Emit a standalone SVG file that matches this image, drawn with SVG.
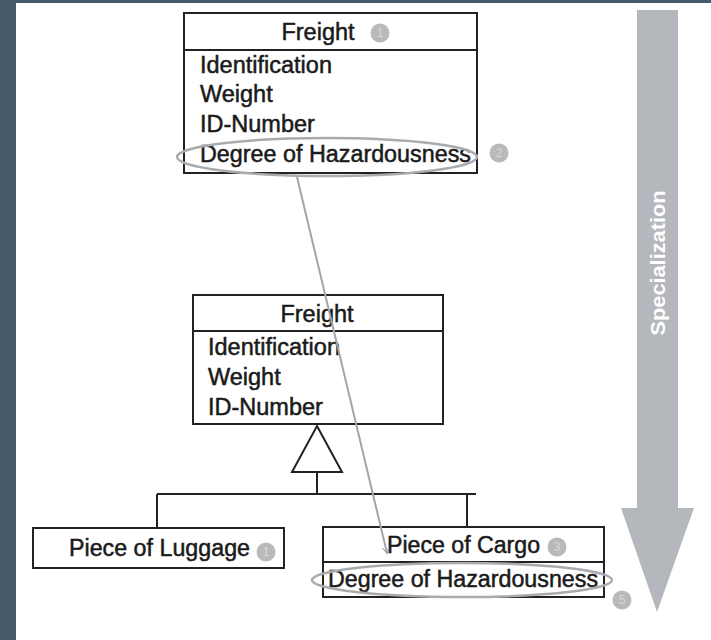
<svg xmlns="http://www.w3.org/2000/svg" width="711" height="640" viewBox="0 0 711 640">
<style>
.box{fill:#fff;stroke:#222;stroke-width:2}
.ln{stroke:#222;stroke-width:2;fill:none}
.t{font-family:"Liberation Sans",Arial,sans-serif;font-size:23.5px;fill:#1a1a1a;stroke:#1a1a1a;stroke-width:0.5}
.c{font-family:"Liberation Sans",Arial,sans-serif;font-size:23.5px;fill:#1a1a1a;stroke:#1a1a1a;stroke-width:0.5;text-anchor:middle}
.bub{fill:#b9b9bb}
.bt{font-family:"Liberation Sans",Arial,sans-serif;font-size:12px;fill:#d8d8da;text-anchor:middle}
.hl{fill:none;stroke:#a9abae;stroke-width:2.5}
</style>
<defs>
<marker id="ah" viewBox="0 0 10 10" refX="9" refY="5" markerWidth="7" markerHeight="7" orient="auto" markerUnits="userSpaceOnUse">
<path d="M0,0 L10,5 L0,10" fill="none" stroke="#a3a5a8" stroke-width="1.5"/>
</marker>
</defs>
<rect x="0" y="0" width="711" height="640" fill="#fff"/>
<rect x="0" y="0" width="16" height="640" fill="#455a68"/>
<rect x="0" y="0" width="711" height="3" fill="#455a68"/>

<g id="specialization">
<path d="M637,10 L678,10 L678,508 L694,508 L657,612 L621,508 L637,508 Z" fill="#b4b7bc"/>
<text transform="translate(665,263) rotate(-90)" font-family="'Liberation Sans',Arial,sans-serif" font-size="20" font-weight="bold" fill="#fff" text-anchor="middle" textLength="145" lengthAdjust="spacingAndGlyphs">Specialization</text>
</g>

<g id="freight-top">
<rect class="box" x="184" y="13" width="293" height="160"/>
<line class="ln" x1="184" y1="50" x2="477" y2="50"/>
<text class="c" x="318" y="40">Freight</text>
<text class="t" x="200" y="73">Identification</text>
<text class="t" x="200" y="102">Weight</text>
<text class="t" x="200" y="132">ID-Number</text>
<text class="t" x="200" y="162" textLength="271" lengthAdjust="spacingAndGlyphs">Degree of Hazardousness</text>
<circle class="bub" cx="380" cy="33" r="9.5"/><text class="bt" x="380" y="37">1</text>
<circle class="bub" cx="499" cy="153" r="9.5"/><text class="bt" x="499" y="157">2</text>
</g>

<g id="freight-mid">
<rect class="box" x="193" y="295" width="250" height="129"/>
<line class="ln" x1="193" y1="331" x2="443" y2="331"/>
<text class="c" x="317" y="322">Freight</text>
<text class="t" x="208" y="355">Identification</text>
<text class="t" x="208" y="385">Weight</text>
<text class="t" x="208" y="415">ID-Number</text>
</g>

<g id="luggage">
<rect class="box" x="33" y="528" width="251" height="40"/>
<text class="t" x="69" y="556" textLength="181" lengthAdjust="spacingAndGlyphs">Piece of Luggage</text>
<circle class="bub" cx="266" cy="552" r="9.5"/><text class="bt" x="266" y="556">1</text>
</g>

<g id="cargo">
<rect class="box" x="323" y="527" width="281" height="70"/>
<line class="ln" x1="323" y1="562" x2="604" y2="562"/>
<text class="t" x="387" y="553" textLength="153" lengthAdjust="spacingAndGlyphs">Piece of Cargo</text>
<text class="t" x="328" y="587" textLength="270" lengthAdjust="spacingAndGlyphs">Degree of Hazardousness</text>
<circle class="bub" cx="557" cy="547" r="9.5"/><text class="bt" x="557" y="551">3</text>
<circle class="bub" cx="622" cy="600" r="9.5"/><text class="bt" x="622" y="604">5</text>
</g>

<g id="connectors">
<path class="ln" d="M317,426 L342,472 L292,472 Z" fill="#fff"/>
<line class="ln" x1="317" y1="472" x2="317" y2="494"/>
<line class="ln" x1="157" y1="494" x2="476" y2="494"/>
<line class="ln" x1="157" y1="494" x2="157" y2="528"/>
<line class="ln" x1="467" y1="494" x2="467" y2="527"/>
<ellipse class="hl" cx="327" cy="157" rx="150" ry="19"/>
<ellipse class="hl" cx="462" cy="580" rx="150" ry="17"/>
<line x1="297" y1="177" x2="387" y2="553" stroke="#a3a5a8" stroke-width="2" marker-end="url(#ah)"/>
</g>
</svg>
